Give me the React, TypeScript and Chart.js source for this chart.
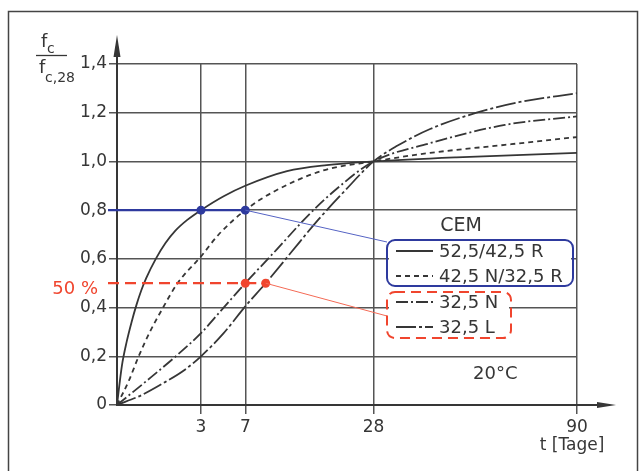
import React, { useEffect, useRef } from "react";
import { Chart, registerables } from "chart.js";

Chart.register(...registerables);

// ---------- data (t in days, value = f_c / f_c,28) ----------
const xTickDays = [3, 7, 28, 90];
const yMin = 0;
const yMax = 1.4;
const yStep = 0.2;

const cem52R_days = [0, 0.01, 0.04, 0.09, 0.16, 0.25, 0.36, 0.64, 1, 1.44, 2.1, 3, 4.84, 7, 12.3, 18.7, 28, 49, 90];
const cem52R_vals = [0, 0.16, 0.26, 0.34, 0.41, 0.47, 0.52, 0.6, 0.665, 0.715, 0.76, 0.8, 0.857, 0.9, 0.96, 0.985, 1.0, 1.017, 1.035];

const cem42N_days = [0, 0.06, 0.2, 0.46, 0.85, 1.56, 3, 4.4, 7, 10.4, 18.1, 28, 41.7, 64, 90];
const cem42N_vals = [0, 0.1, 0.2, 0.3, 0.39, 0.5, 0.61, 0.7, 0.8, 0.875, 0.963, 1.0, 1.035, 1.068, 1.1];

const cem32N_days = [0, 0.38, 1.54, 3, 4.84, 7, 10.9, 15.6, 21.2, 28, 41.7, 64, 90];
const cem32N_vals = [0, 0.1, 0.205, 0.295, 0.4, 0.5, 0.64, 0.78, 0.9, 1.0, 1.075, 1.15, 1.185];

const cem32L_days = [0, 0.25, 1, 1.96, 3, 4.84, 7, 9.4, 13, 17.2, 22.1, 28, 33.5, 41.7, 55, 68.7, 90];
const cem32L_vals = [0, 0.04, 0.095, 0.145, 0.2, 0.295, 0.405, 0.5, 0.63, 0.76, 0.88, 1.0, 1.065, 1.133, 1.2, 1.243, 1.28];

const seriesLabels = ["52,5/42,5 R", "42,5 N/32,5 R", "32,5 N", "32,5 L"];

const blueMarkDays = [3, 7];
const blueMarkLevel = 0.8;
const redMarkDays = [7, 9.4];
const redMarkLevel = 0.5;

// ---------- styles ----------
const INK = "#363636";
const GRID = "#555555";
const BLUE = "#2e3a9e";
const RED = "#f0452e";
const FONT = "'DejaVu Sans', 'Liberation Sans', sans-serif";
const DASHES: number[][] = [[], [5, 4], [12, 3, 2, 3], [20, 3, 3, 3]];

const toXY = (days: number[], vals: number[]) =>
  days.map((d, i) => ({ x: Math.sqrt(d), y: vals[i] }));

const fmtY = (v: number) => (Math.abs(v) < 1e-9 ? "0" : v.toFixed(1).replace(".", ","));

const decorPlugin = {
  id: "decor",
  afterDatasetsDraw(chart: any) {
    const { ctx, chartArea, scales } = chart;
    const xs = scales.x;
    const ys = scales.y;
    const L = chartArea.left;
    const B = chartArea.bottom;
    ctx.save();
    const tickEnd = L - 9;
    const by = ys.getPixelForValue(blueMarkLevel);
    ctx.strokeStyle = BLUE;
    ctx.lineWidth = 2.2;
    ctx.setLineDash([]);
    ctx.beginPath();
    ctx.moveTo(tickEnd, by);
    ctx.lineTo(xs.getPixelForValue(Math.sqrt(blueMarkDays[0])), by);
    ctx.stroke();
    const ry = ys.getPixelForValue(redMarkLevel);
    ctx.strokeStyle = RED;
    ctx.setLineDash([11, 6]);
    ctx.beginPath();
    ctx.moveTo(tickEnd, ry);
    ctx.lineTo(xs.getPixelForValue(Math.sqrt(redMarkDays[0])), ry);
    ctx.stroke();
    ctx.setLineDash([]);

    ctx.lineWidth = 1;
    ctx.strokeStyle = "#5563c4";
    ctx.beginPath();
    ctx.moveTo(xs.getPixelForValue(Math.sqrt(blueMarkDays[1])), by);
    ctx.lineTo(387, 242);
    ctx.stroke();
    ctx.strokeStyle = "#f46a55";
    ctx.beginPath();
    ctx.moveTo(xs.getPixelForValue(Math.sqrt(redMarkDays[1])), ry);
    ctx.lineTo(387, 316);
    ctx.stroke();

    ctx.strokeStyle = INK;
    ctx.fillStyle = INK;
    ctx.lineWidth = 2;
    ctx.beginPath();
    ctx.moveTo(L, chartArea.top);
    ctx.lineTo(L, 50);
    ctx.moveTo(chartArea.right, B);
    ctx.lineTo(604, B);
    ctx.stroke();
    ctx.beginPath();
    ctx.moveTo(L, 35);
    ctx.lineTo(L - 3.5, 57);
    ctx.lineTo(L + 3.5, 57);
    ctx.closePath();
    ctx.fill();
    ctx.beginPath();
    ctx.moveTo(616, B);
    ctx.lineTo(597, B - 3);
    ctx.lineTo(597, B + 3);
    ctx.closePath();
    ctx.fill();
    ctx.restore();
  },
  afterDraw(chart: any) {
    const { ctx } = chart;
    ctx.save();
    ctx.strokeStyle = "#444";
    ctx.lineWidth = 1.5;
    ctx.strokeRect(8.5, 11.5, 629, 480);

    ctx.fillStyle = INK;
    ctx.textBaseline = "alphabetic";
    ctx.textAlign = "left";
    ctx.font = `18px ${FONT}`;
    ctx.fillText("f", 41, 47);
    ctx.fillText("f", 39, 73);
    ctx.font = `14px ${FONT}`;
    ctx.fillText("c", 47, 53);
    ctx.fillText("c,28", 45, 82);
    ctx.strokeStyle = INK;
    ctx.lineWidth = 1.3;
    ctx.beginPath();
    ctx.moveTo(36, 55.5);
    ctx.lineTo(67, 55.5);
    ctx.stroke();

    ctx.textBaseline = "middle";
    ctx.textAlign = "center";
    ctx.font = `17px ${FONT}`;
    ctx.fillText("t [Tage]", 572, 446);

    ctx.fillStyle = RED;
    ctx.textAlign = "right";
    ctx.font = `18px ${FONT}`;
    ctx.fillText("50 %", 98, 289);

    ctx.fillStyle = INK;
    ctx.textAlign = "left";
    ctx.fillText("20°C", 473, 374);

    ctx.font = `19px ${FONT}`;
    ctx.textAlign = "center";
    ctx.fillText("CEM", 461, 226);

    ctx.fillStyle = "#ffffff";
    ctx.fillRect(389, 241, 182, 44);
    ctx.fillRect(389, 293, 120, 44);
    ctx.lineWidth = 2;
    ctx.strokeStyle = BLUE;
    ctx.setLineDash([]);
    ctx.beginPath();
    ctx.roundRect(387, 240, 186, 46, 8);
    ctx.stroke();
    ctx.strokeStyle = RED;
    ctx.setLineDash([10, 6]);
    ctx.beginPath();
    ctx.roundRect(387, 292, 124, 46, 8);
    ctx.stroke();

    const rows = [251, 276, 302, 327];
    ctx.font = `18px ${FONT}`;
    ctx.textAlign = "left";
    ctx.textBaseline = "middle";
    rows.forEach((yy, i) => {
      ctx.strokeStyle = INK;
      ctx.lineWidth = 1.8;
      ctx.setLineDash(DASHES[i].length ? DASHES[i] : []);
      ctx.beginPath();
      ctx.moveTo(396, yy);
      ctx.lineTo(433, yy);
      ctx.stroke();
      ctx.setLineDash([]);
      ctx.fillStyle = INK;
      ctx.fillText(seriesLabels[i], 439, yy + 1);
    });
    ctx.restore();
  },
};

export default function App() {
  const ref = useRef<HTMLCanvasElement | null>(null);

  useEffect(() => {
    if (!ref.current) return;
    const curveData = [
      toXY(cem52R_days, cem52R_vals),
      toXY(cem42N_days, cem42N_vals),
      toXY(cem32N_days, cem32N_vals),
      toXY(cem32L_days, cem32L_vals),
    ];
    const curveSets = curveData.map((d, i) => ({
      type: "line" as const,
      label: seriesLabels[i],
      data: d,
      borderColor: INK,
      borderWidth: 1.8,
      borderDash: DASHES[i],
      pointRadius: 0,
      fill: false,
      cubicInterpolationMode: "monotone" as const,
      order: 2,
    }));
    const blueSet = {
      type: "line" as const,
      label: "blue",
      data: blueMarkDays.map((d) => ({ x: Math.sqrt(d), y: blueMarkLevel })),
      borderColor: BLUE,
      backgroundColor: BLUE,
      borderWidth: 2.2,
      pointRadius: 4.5,
      pointBorderWidth: 0,
      order: 0,
      clip: false,
    };
    const redSet = {
      type: "line" as const,
      label: "red",
      data: redMarkDays.map((d) => ({ x: Math.sqrt(d), y: redMarkLevel })),
      borderColor: RED,
      backgroundColor: RED,
      borderWidth: 2.2,
      borderDash: [11, 6],
      pointRadius: 4.5,
      pointBorderWidth: 0,
      order: 0,
      clip: false,
    };

    const chart = new Chart(ref.current, {
      type: "line",
      data: { datasets: [blueSet, redSet, ...curveSets] as any },
      plugins: [decorPlugin as any],
      options: {
        animation: false,
        responsive: false,
        maintainAspectRatio: false,
        layout: { padding: { left: 0, right: 63, top: 64, bottom: 26 } },
        plugins: { legend: { display: false }, tooltip: { enabled: false } },
        scales: {
          x: {
            type: "linear",
            min: 0,
            max: Math.sqrt(xTickDays[xTickDays.length - 1]),
            afterBuildTicks: (scale: any) => {
              scale.ticks = xTickDays.map((d) => ({ value: Math.sqrt(d) }));
            },
            afterFit: (scale: any) => {
              scale.height = 40;
            },
            grid: { color: GRID, lineWidth: 1.5, tickLength: 9, drawTicks: true },
            border: { display: true, color: INK, width: 2 },
            ticks: {
              autoSkip: false,
              maxRotation: 0,
              padding: 3,
              color: INK,
              font: { family: FONT, size: 17 },
              callback: (v: any) => String(Math.round(Number(v) * Number(v))),
            },
          },
          y: {
            type: "linear",
            min: yMin,
            max: yMax,
            afterFit: (scale: any) => {
              scale.width = 117;
            },
            grid: { color: GRID, lineWidth: 1.5, tickLength: 8, drawTicks: true },
            border: { display: true, color: INK, width: 2 },
            ticks: {
              stepSize: yStep,
              padding: 2,
              color: INK,
              font: { family: FONT, size: 17 },
              callback: (v: any) => fmtY(Number(v)),
            },
          },
        },
      } as any,
    });
    return () => chart.destroy();
  }, []);

  return (
    <div style={{ position: "fixed", left: 0, top: 0, width: 640, height: 471, background: "#fff" }}>
      <canvas ref={ref} width={640} height={471} />
    </div>
  );
}
